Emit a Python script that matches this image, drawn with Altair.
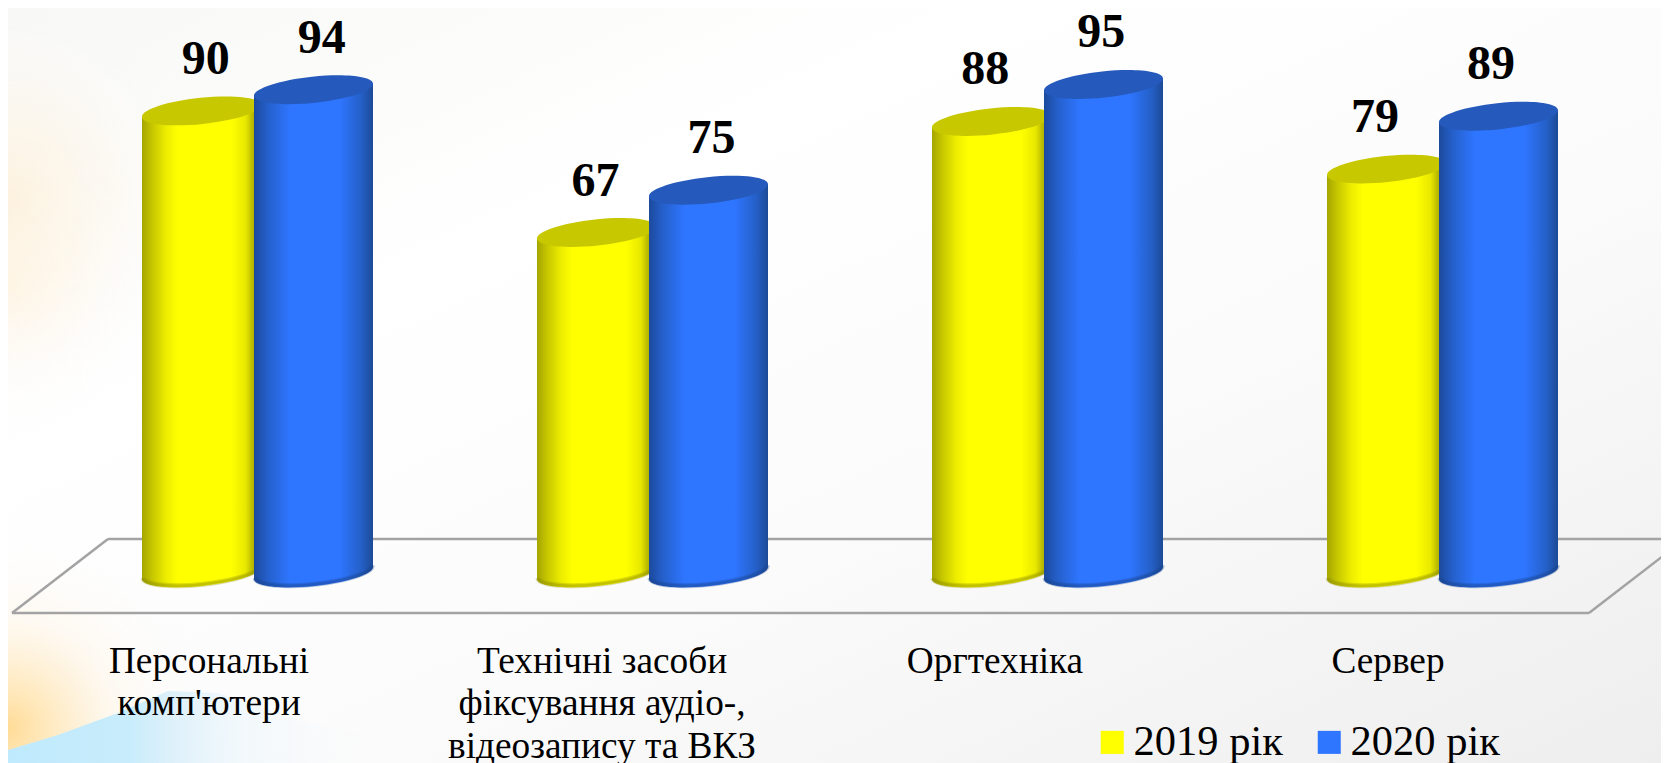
import altair as alt
import pandas as pd

categories = ["Персональні|комп'ютери", "Технічні засоби|фіксування аудіо-,|відеозапису та ВКЗ", "Оргтехніка", "Сервер"]
years = ["2019 рік", "2020 рік"]
values_2019 = [90, 67, 88, 79]
values_2020 = [94, 75, 95, 89]
axis_floor = 2.65

W, H = 1653, 755
FONT = "Liberation Serif"

rows = [{"cat": c, "year": years[0], "value": v} for c, v in zip(categories, values_2019)]
rows += [{"cat": c, "year": years[1], "value": v} for c, v in zip(categories, values_2020)]
df = pd.DataFrame(rows)

def stops(*pairs):
    return [alt.GradientStop(offset=o, color=c) for o, c in pairs]

def hgrad(*pairs):
    return alt.LinearGradient(gradient="linear", x1=0, x2=1, y1=0, y2=0, stops=stops(*pairs))

style = {
    years[0]: dict(body=hgrad((0, "#a5a500"), (0.08, "#c4c400"), (0.2, "#ecec00"), (0.3, "#ffff00"), (0.75, "#ffff00"), (0.87, "#e8e800"), (0.93, "#b8b800"), (1, "#a0a000")),
                   top="#c8c800", edge="#8f8f00"),
    years[1]: dict(body=hgrad((0, "#1c4a9c"), (0.12, "#2560cc"), (0.3, "#2e75ff"), (0.72, "#2e75ff"), (0.9, "#2560c8"), (1, "#1c4a96")),
                   top="#2559bb", edge="#1a448e"),
}

yscale = alt.Scale(domain=[-33.27, 109.45], range=[H, 0])
Y = alt.Y("value:Q", scale=yscale, axis=None)
Y0 = alt.Y(datum=axis_floor, scale=yscale, axis=None)

x_bars = alt.X("cat:N", sort=categories, axis=None,
               scale=alt.Scale(domain=categories, range=[52, 1632], paddingInner=0, paddingOuter=0))
off_bars = alt.XOffset("year:N", sort=years,
                       scale=alt.Scale(type="point", padding=0, domain=years, range=[141.5, 253.5]))

CYL = 119 ** 2
ELLIPSE = "M-1,0.105 A1.005,0.22,-6,1,1,1,-0.105 A1.005,0.22,-6,1,1,-1,0.105 Z"
TOP_CAP = "M-1,0.105 L1,-0.105 L1,0.26 L-1,0.26 Z"
BOTTOM_CAP = "M-1,-0.26 L1,-0.26 L1,-0.105 A1.005,0.22,-6,0,1,-1,0.105 Z"
BOTTOM_EDGE = "M0.985,-0.125 A0.99,0.21,-6,0,1,-0.985,0.085"

def cylinder(year):
    s = style[year]
    base = alt.Chart(df).transform_filter(alt.datum.year == year)
    enc = dict(x=x_bars, xOffset=off_bars)
    body = base.mark_bar(width=119, fill=s["body"], yOffset=14, y2Offset=-14).encode(
        y=Y, y2=alt.Y2(datum=axis_floor), **enc)
    topcap = base.mark_point(shape=TOP_CAP, size=CYL, fill=s["body"], filled=True, opacity=1, strokeWidth=0).encode(y=Y, **enc)
    botcap = base.mark_point(shape=BOTTOM_CAP, size=CYL, fill=s["body"], filled=True, opacity=1, strokeWidth=0).encode(y=Y0, **enc)
    edge_wide = base.mark_point(shape=BOTTOM_EDGE, size=CYL, filled=False, stroke=s["edge"], strokeWidth=5, strokeOpacity=0.3, opacity=1).encode(y=Y0, **enc)
    edge_thin = base.mark_point(shape=BOTTOM_EDGE, size=CYL, filled=False, stroke=s["edge"], strokeWidth=2.5, strokeOpacity=0.35, opacity=1).encode(y=Y0, **enc)
    top = base.mark_point(shape=ELLIPSE, size=CYL, fill=s["top"], filled=True, opacity=1, strokeWidth=0).encode(y=Y, **enc)
    return [body, topcap, botcap, edge_wide, edge_thin, top]

one = pd.DataFrame({"a": [0]})

def rect(fill, x0, x1, y0, y1):
    return alt.Chart(one).mark_rect(fill=fill).encode(
        x=alt.value(x0), x2=alt.value(x1), y=alt.value(y0), y2=alt.value(y1))

def radial(*pairs):
    return alt.RadialGradient(gradient="radial", x1=0, y1=0.5, x2=0, y2=0.5, r1=0, r2=0.5, stops=stops(*pairs))

bg_base = rect(alt.LinearGradient(gradient="linear", x1=0, y1=0, x2=1, y2=1,
                                  stops=stops((0, "#f8f8f6"), (0.3, "#ffffff"), (0.6, "#fbfbfb"), (1, "#eeeeee"))),
               0, W, 0, H)
bg_peach = rect(radial((0, "rgba(255,234,200,0.6)"), (0.5, "rgba(255,242,220,0.3)"), (1, "rgba(255,255,255,0)")),
                0, 380, 0, 380)
bg_peach2 = rect(radial((0, "rgba(255,240,215,0.5)"), (0.5, "rgba(255,245,230,0.2)"), (1, "rgba(255,255,255,0)")),
                 0, 300, 130, 430)
bg_orange = rect(radial((0, "rgba(255,220,150,1)"), (0.3, "rgba(255,236,200,0.85)"), (0.55, "rgba(255,245,230,0.5)"), (1, "rgba(255,255,255,0)")),
                 0, 400, 520, 920)
WEDGE = "M0,0 L0,-0.013 L0.05,-0.028 L0.11,-0.05 L0.16,-0.072 L0.21,-0.07 L0.30,-0.04 L0.45,-0.012 L0.60,0 Z"
bg_wedge = alt.Chart(one).mark_point(
    shape=WEDGE, size=4000000, filled=True, opacity=1, strokeWidth=0,
    fill=hgrad((0, "#bfeafd"), (0.2, "#c8ecfb"), (0.28, "#dff1fa"), (0.38, "rgba(238,247,252,0.75)"), (0.6, "rgba(250,250,250,0.3)"), (0.8, "rgba(250,250,250,0)"))
).encode(x=alt.value(0), y=alt.value(H))

GRAY = "#a3a3a3"
def edge(x0, y0, x1, y1):
    return alt.Chart(one).mark_rule(color=GRAY, strokeWidth=2.5).encode(
        x=alt.value(x0), x2=alt.value(x1), y=alt.value(y0), y2=alt.value(y1))
floor = [edge(100, 531, 1677, 531), edge(4, 605, 1581, 605), edge(100, 531, 4, 605), edge(1677, 531, 1581, 605)]

cylinders = alt.layer(*(cylinder(years[0]) + cylinder(years[1])))

x_text = alt.X("cat:N", sort=categories, axis=None,
               scale=alt.Scale(domain=categories, range=[61, 1620], paddingInner=0, paddingOuter=0))
off_text = alt.XOffset("year:N", sort=years, scale=alt.Scale(type="point", padding=0, domain=years, range=[136.85, 252.85]))
value_labels = alt.Chart(df).mark_text(font=FONT, fontWeight="bold", fontSize=48, color="black", dy=-51).encode(
    x=x_text, xOffset=off_text, y=Y, text=alt.Text("value:Q"))

x_axis = alt.X("cat:N", sort=categories, title=None,
               scale=alt.Scale(domain=categories, range=[4, 1576], paddingInner=0, paddingOuter=0),
               axis=alt.Axis(orient="bottom", offset=-120, labelAngle=0, labelFont=FONT, labelFontSize=37.3,
                             labelColor="black", labelLineHeight=42.5, labelLimit=0, labelPadding=0,
                             labelBaseline="top", labelAlign="center", ticks=False, domain=False, grid=False,
                             labelExpr="split(datum.label, '|')", zindex=2))
legend_layer = alt.Chart(df).mark_square(size=0, opacity=1).encode(
    x=x_axis, y=Y,
    color=alt.Color("year:N", sort=years,
                    scale=alt.Scale(domain=years, range=["#ffff00", "#2e75ff"]),
                    legend=alt.Legend(orient="none", legendX=1083, legendY=713, direction="horizontal",
                                      title=None, symbolType="square", symbolSize=530, symbolStrokeWidth=0,
                                      symbolOpacity=1, labelFont=FONT, labelFontSize=42.5, labelColor="black",
                                      columnPadding=25, labelOffset=0, labelLimit=0, padding=0)))

chart = alt.layer(
    alt.layer(bg_base, bg_peach, bg_peach2, bg_orange, bg_wedge, *floor),
    cylinders,
    value_labels,
    legend_layer,
).resolve_scale(x="independent", xOffset="independent").properties(
    width=W, height=H, padding=0, autosize=alt.AutoSizeParams(type="none"), background="transparent"
).configure_view(stroke=None)

chart.save("out.html", embed_options={"renderer": "svg", "actions": False})
